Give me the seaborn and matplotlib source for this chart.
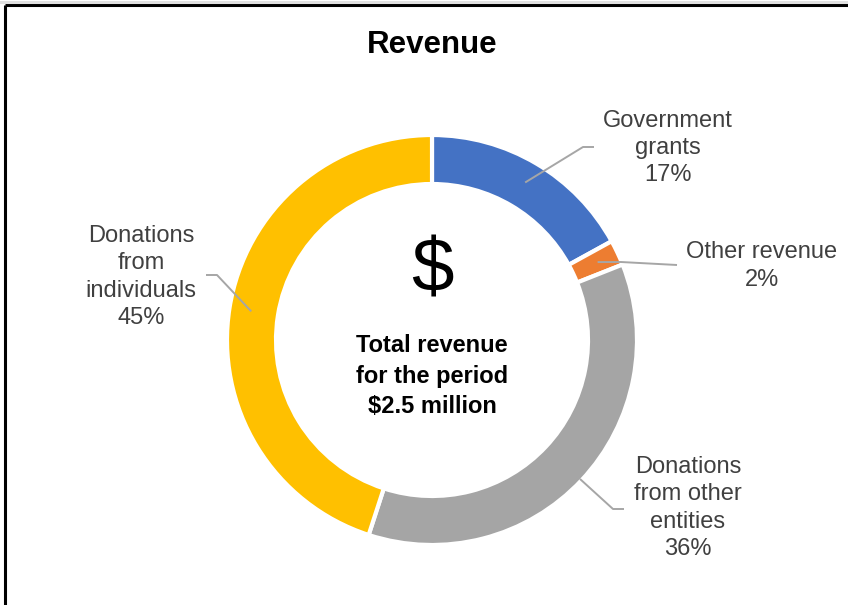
import numpy as np
import matplotlib
matplotlib.use("Agg")
import matplotlib.pyplot as plt
import seaborn as sns

# data
categories = ["Government grants", "Other revenue", "Donations from other entities", "Donations from individuals"]
label_texts = ["Government\ngrants", "Other revenue", "Donations\nfrom other\nentities", "Donations\nfrom\nindividuals"]
shares = [17, 2, 36, 45]
colors = ["#4472C4", "#ED7D31", "#A5A5A5", "#FFC000"]

W, H = 848, 605

sns.set_style("white")
plt.rcParams["font.family"] = ["Liberation Sans", "DejaVu Sans"]

fig = plt.figure(figsize=(W / 100, H / 100), dpi=100)
ax = fig.add_axes([0, 0, 1, 1])

cx, cy = 432, H - 340
R = 205
ring = 49

wedges, _ = ax.pie(shares, colors=sns.color_palette(colors), startangle=90, counterclock=False,
                   radius=R, center=(cx, cy),
                   wedgeprops=dict(width=ring, edgecolor="white", linewidth=3))

ax.set_xlim(0, W)
ax.set_ylim(0, H)
ax.set_aspect("equal")
ax.axis("off")

# label layout (pixel positions, y from top): text centre, elbow, end, radius of start
layout = [
    dict(text=(668, 148), elbow=(583, 147), end=(594, 147), r=183),
    dict(text=(762, 266), elbow=(621, 262), end=(677, 265), r=183),
    dict(text=(688, 508), elbow=(613, 509), end=(624, 509), r=203),
    dict(text=(141, 277), elbow=(217, 275), end=(206, 275), r=183),
]

lead_col = "#A6A6A6"
txt_col = "#404040"
for w, lab, pct, lo in zip(wedges, label_texts, shares, layout):
    mid = np.deg2rad((w.theta1 + w.theta2) / 2)
    sx = cx + lo["r"] * np.cos(mid)
    sy = cy + lo["r"] * np.sin(mid)
    ex, ey = lo["elbow"]
    nx, ny = lo["end"]
    ax.plot([sx, ex, nx], [sy, H - ey, H - ny], color=lead_col, lw=1.4, solid_capstyle="butt")
    tx, ty = lo["text"]
    ax.text(tx, H - ty, f"{lab}\n{pct}%", ha="center", va="center", fontsize=17,
            color=txt_col, linespacing=1.32)

# centre texts
ax.text(cx, H - 272, "\\$", ha="center", va="center", fontsize=55, color="black")
ax.text(cx, H - 376, "Total revenue\nfor the period\n\\$2.5 million", ha="center", va="center",
        fontsize=17, fontweight="bold", color="black", linespacing=1.42)

# title
ax.text(cx, H - 45, "Revenue", ha="center", va="center", fontsize=22.5, fontweight="bold", color="black")

# frame edges (top and left)
ax.plot([5, W], [H - 5, H - 5], color="black", lw=2.2, clip_on=False, solid_capstyle="butt")
ax.plot([5, 5], [H - 5, 0], color="black", lw=2.2, clip_on=False, solid_capstyle="butt")
ax.plot([0, W], [H - 1.5, H - 1.5], color="#E0E0E0", lw=2.2, clip_on=False)

fig.savefig("out.png", dpi=100)
